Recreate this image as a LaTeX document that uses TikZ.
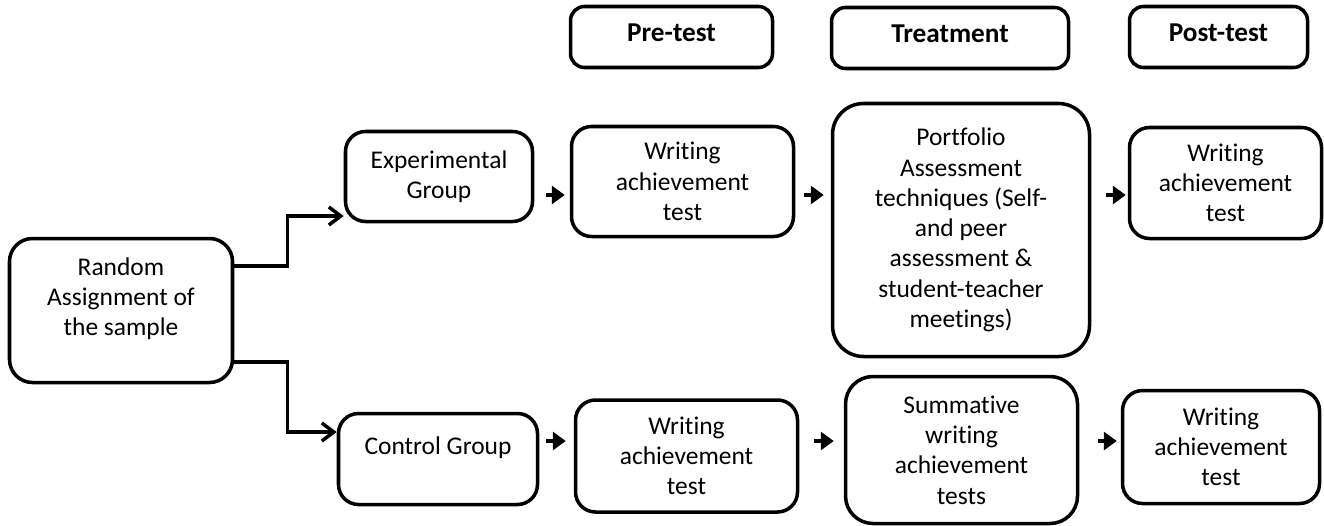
\documentclass[tikz,border=0pt]{standalone}
\usepackage{fontspec}
\setmainfont{Carlito}[Ligatures={NoCommon}]
\usetikzlibrary{positioning,arrows.meta}

\begin{document}
\begin{tikzpicture}[
    design box/.style={rectangle, draw, line width=2pt, rounded corners=0.4cm, align=center, inner sep=2pt, font=\fontsize{14.5}{17.2}\selectfont},
    phase box/.style={design box, rounded corners=0.28cm, minimum height=1.22cm, text depth=0.18cm, font=\fontsize{15.5}{17.2}\selectfont\bfseries},
    split arrow/.style={-{Straight Barb[length=0.24cm,width=0.36cm]}, line width=2pt},
    step arrow/.style={-{Triangle[length=0.26cm,width=0.36cm]}, line width=2.4pt, shorten <=0.24cm, shorten >=0.1cm}]

    \useasboundingbox (0,0) rectangle (26.48,-10.5);

    % phases
    \node [phase box, minimum width=4.04cm] (prehead) at (13.43,-0.74) {Pre-test};
    \node [phase box, minimum width=4.74cm] (treathead) at (19.0,-0.76) {Treatment};
    \node [phase box, minimum width=3.56cm] (posthead) at (24.37,-0.74) {Post-test};

    \node [design box, rounded corners=0.46cm, minimum width=4.46cm, minimum height=2.88cm, text depth=0.55cm] (rand) at (2.42,-6.21) {Random\\Assignment of\\the sample};

    % experimental group
    \node [design box, minimum width=3.74cm, minimum height=1.8cm] (exp) at (8.78,-3.53) {Experimental\\Group};
    \node [design box, minimum width=4.44cm, minimum height=2.2cm] (pre1) at (13.65,-3.63) {Writing\\achievement\\test};
    \node [design box, rounded corners=0.62cm, minimum width=5.14cm, minimum height=5.06cm] (port) at (19.22,-4.6) {Portfolio\\Assessment\\techniques (Self-\\and peer\\assessment \&\\student-teacher\\meetings)};
    \node [design box, minimum width=3.84cm, minimum height=2.22cm] (post1) at (24.51,-3.66) {Writing\\achievement\\test};

    % control group
    \node [design box, minimum width=3.98cm, minimum height=1.82cm, text depth=0.52cm] (ctrl) at (8.76,-9.18) {Control Group};
    \node [design box, minimum width=4.44cm, minimum height=2.24cm] (pre2) at (13.73,-9.12) {Writing\\achievement\\test};
    \node [design box, rounded corners=0.55cm, minimum width=4.64cm, minimum height=2.94cm] (summ) at (19.23,-9.0) {Summative\\writing\\achievement\\tests};
    \node [design box, minimum width=3.94cm, minimum height=2.26cm] (post2) at (24.42,-8.94) {Writing\\achievement\\test};

    \draw [split arrow] ([yshift=0.89cm]rand.east) -- ++(1.06,0) |- ([yshift=-0.79cm]exp.west);
    \draw [split arrow] ([yshift=-1.03cm]rand.east) -- ++(1.06,0) |- ([yshift=0.54cm]ctrl.west);

    \coordinate (row1) at (0,-3.9);
    \coordinate (row2) at (0,-8.82);
    \draw [step arrow] (exp.east |- row1) -- (pre1.west |- row1);
    \draw [step arrow, shorten <=0.18cm, shorten >=0.14cm] (pre1.east |- row1) -- (port.west |- row1);
    \draw [step arrow, shorten <=0.3cm, shorten >=0.04cm] (port.east |- row1) -- (post1.west |- row1);
    \draw [step arrow, shorten <=0.14cm, shorten >=0.16cm] (ctrl.east |- row2) -- (pre2.west |- row2);
    \draw [step arrow, shorten <=0.3cm, shorten >=0.2cm] (pre2.east |- row2) -- (summ.west |- row2);
    \draw [step arrow, shorten <=0.38cm, shorten >=0.08cm] (summ.east |- row2) -- (post2.west |- row2);

\end{tikzpicture}
\end{document}
